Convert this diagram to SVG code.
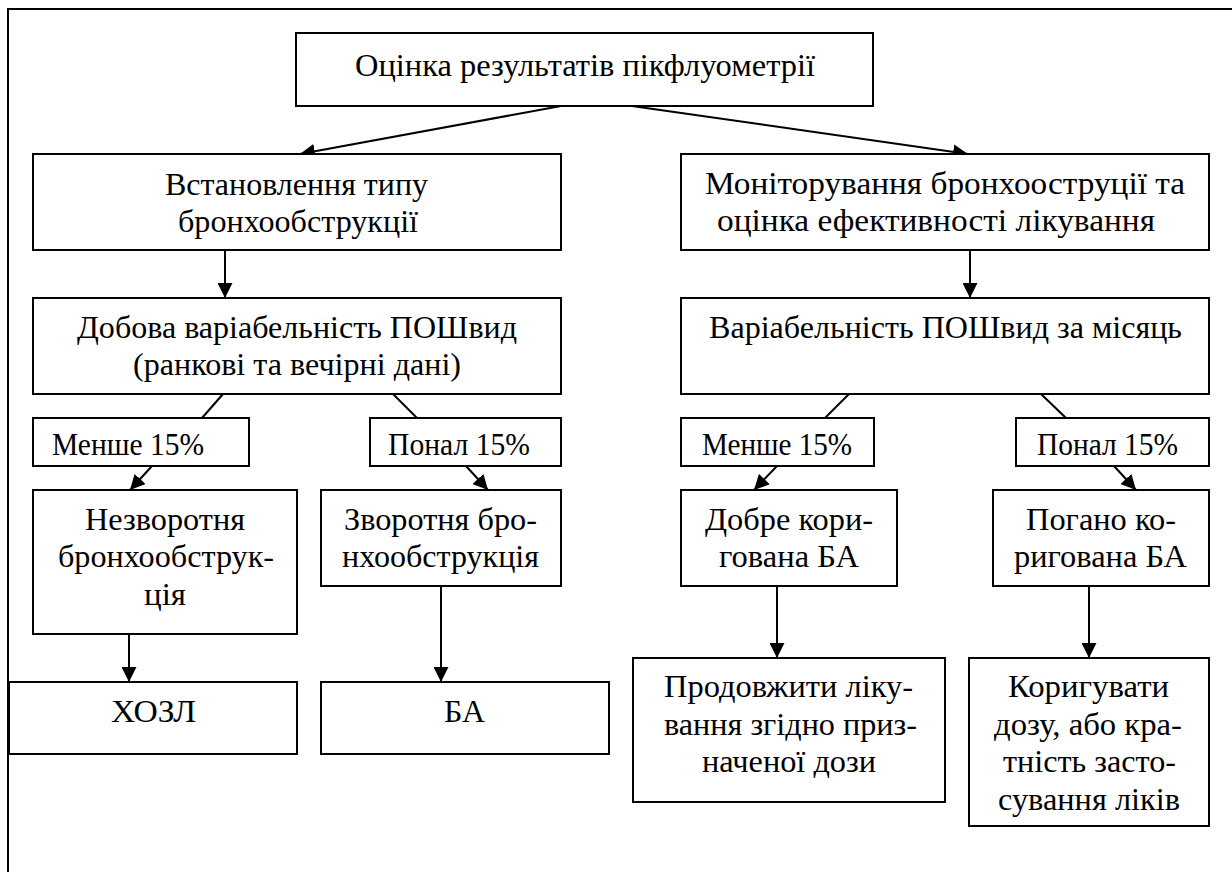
<svg xmlns="http://www.w3.org/2000/svg" width="1232" height="872" viewBox="0 0 1232 872" font-size="32">
  <defs>
    <marker id="arrow" markerUnits="userSpaceOnUse" markerWidth="15" markerHeight="15" refX="15" refY="7.5" orient="auto">
      <path d="M0,0 L15,7.5 L0,15 z" fill="#000"/>
    </marker>
  </defs>

  <rect width="1232" height="872" fill="#fff"/>
  <!-- page frame (open to the right and bottom) -->
  <path d="M8,872 V9 H1232" fill="none" stroke="#000" stroke-width="2"/>

  <!-- connectors -->
  <g id="connectors" fill="none" stroke="#000" stroke-width="2">
    <line x1="561" y1="106" x2="300" y2="154" marker-end="url(#arrow)"/>
    <line x1="632" y1="106" x2="968" y2="154" marker-end="url(#arrow)"/>
    <line x1="225" y1="250" x2="225" y2="298" marker-end="url(#arrow)"/>
    <line x1="970" y1="250" x2="970" y2="298" marker-end="url(#arrow)"/>
    <line x1="223" y1="394" x2="202" y2="418"/>
    <line x1="393" y1="394" x2="417" y2="418"/>
    <line x1="849" y1="394" x2="825" y2="418"/>
    <line x1="1041" y1="394" x2="1066" y2="418"/>
    <line x1="152" y1="466" x2="130" y2="490" marker-end="url(#arrow)"/>
    <line x1="466" y1="466" x2="488" y2="490" marker-end="url(#arrow)"/>
    <line x1="777" y1="466" x2="754" y2="490" marker-end="url(#arrow)"/>
    <line x1="1114" y1="466" x2="1136" y2="490" marker-end="url(#arrow)"/>
    <line x1="129" y1="634" x2="129" y2="682" marker-end="url(#arrow)"/>
    <line x1="441" y1="586" x2="441" y2="682" marker-end="url(#arrow)"/>
    <line x1="777" y1="586" x2="777" y2="658" marker-end="url(#arrow)"/>
    <line x1="1089" y1="586" x2="1089" y2="658" marker-end="url(#arrow)"/>
  </g>

  <g id="root">
    <rect x="296" y="33" width="577" height="73" fill="#fff" stroke="#000" stroke-width="2"/>
    <text x="355" y="76" font-family="Liberation Serif" textLength="460" lengthAdjust="spacingAndGlyphs">Оцінка результатів пікфлуометрії</text>
  </g>

  <g id="type">
    <rect x="33" y="154" width="528" height="96" fill="#fff" stroke="#000" stroke-width="2"/>
    <text x="165" y="195" font-family="Liberation Serif" textLength="263" lengthAdjust="spacingAndGlyphs">Встановлення типу</text>
    <text x="178" y="232" font-family="Liberation Serif" textLength="240" lengthAdjust="spacingAndGlyphs">бронхообструкції</text>
  </g>

  <g id="monitoring">
    <rect x="681" y="154" width="528" height="96" fill="#fff" stroke="#000" stroke-width="2"/>
    <text x="705" y="194" font-family="Liberation Serif" textLength="480" lengthAdjust="spacingAndGlyphs">Моніторування бронхооструції та</text>
    <text x="717" y="231" font-family="Liberation Serif" textLength="438" lengthAdjust="spacingAndGlyphs">оцінка ефективності лікування</text>
  </g>

  <g id="daily">
    <rect x="33" y="298" width="528" height="96" fill="#fff" stroke="#000" stroke-width="2"/>
    <text x="77" y="338" font-family="Liberation Serif" textLength="440" lengthAdjust="spacingAndGlyphs">Добова варіабельність ПОШвид</text>
    <text x="133" y="375" font-family="Liberation Serif" textLength="328" lengthAdjust="spacingAndGlyphs">(ранкові та вечірні дані)</text>
  </g>

  <g id="monthly">
    <rect x="681" y="298" width="528" height="96" fill="#fff" stroke="#000" stroke-width="2"/>
    <text x="709" y="338" font-family="Liberation Serif" textLength="473" lengthAdjust="spacingAndGlyphs">Варіабельність ПОШвид за місяць</text>
  </g>

  <g id="daily-less">
    <rect x="33" y="418" width="216" height="48" fill="#fff" stroke="#000" stroke-width="2"/>
    <text x="52" y="455" font-family="Liberation Serif" textLength="152" lengthAdjust="spacingAndGlyphs">Менше 15%</text>
  </g>

  <g id="daily-more">
    <rect x="370" y="418" width="191" height="48" fill="#fff" stroke="#000" stroke-width="2"/>
    <text x="388" y="455" font-family="Liberation Serif" textLength="142" lengthAdjust="spacingAndGlyphs">Понал 15%</text>
  </g>

  <g id="monthly-less">
    <rect x="681" y="418" width="193" height="48" fill="#fff" stroke="#000" stroke-width="2"/>
    <text x="702" y="455" font-family="Liberation Serif" textLength="150" lengthAdjust="spacingAndGlyphs">Менше 15%</text>
  </g>

  <g id="monthly-more">
    <rect x="1016" y="418" width="193" height="48" fill="#fff" stroke="#000" stroke-width="2"/>
    <text x="1037" y="455" font-family="Liberation Serif" textLength="141" lengthAdjust="spacingAndGlyphs">Понал 15%</text>
  </g>

  <g id="irreversible">
    <rect x="33" y="490" width="264" height="144" fill="#fff" stroke="#000" stroke-width="2"/>
    <text x="85" y="530" font-family="Liberation Serif" textLength="160" lengthAdjust="spacingAndGlyphs">Незворотня</text>
    <text x="58" y="567" font-family="Liberation Serif" textLength="216" lengthAdjust="spacingAndGlyphs">бронхообструк-</text>
    <text x="144" y="605" font-family="Liberation Serif" textLength="42" lengthAdjust="spacingAndGlyphs">ція</text>
  </g>

  <g id="reversible">
    <rect x="321" y="490" width="240" height="96" fill="#fff" stroke="#000" stroke-width="2"/>
    <text x="344" y="530" font-family="Liberation Serif" textLength="193" lengthAdjust="spacingAndGlyphs">Зворотня бро-</text>
    <text x="342" y="567" font-family="Liberation Serif" textLength="197" lengthAdjust="spacingAndGlyphs">нхообструкція</text>
  </g>

  <g id="well-controlled">
    <rect x="681" y="490" width="216" height="96" fill="#fff" stroke="#000" stroke-width="2"/>
    <text x="705" y="530" font-family="Liberation Serif" textLength="168" lengthAdjust="spacingAndGlyphs">Добре кори-</text>
    <text x="719" y="567" font-family="Liberation Serif" textLength="140" lengthAdjust="spacingAndGlyphs">гована БА</text>
  </g>

  <g id="poorly-controlled">
    <rect x="993" y="490" width="216" height="96" fill="#fff" stroke="#000" stroke-width="2"/>
    <text x="1026" y="530" font-family="Liberation Serif" textLength="150" lengthAdjust="spacingAndGlyphs">Погано ко-</text>
    <text x="1014" y="567" font-family="Liberation Serif" textLength="173" lengthAdjust="spacingAndGlyphs">ригована БА</text>
  </g>

  <g id="copd">
    <rect x="9" y="682" width="288" height="72" fill="#fff" stroke="#000" stroke-width="2"/>
    <text x="111" y="722" font-family="Liberation Serif" textLength="85" lengthAdjust="spacingAndGlyphs">ХОЗЛ</text>
  </g>

  <g id="asthma">
    <rect x="321" y="682" width="288" height="72" fill="#fff" stroke="#000" stroke-width="2"/>
    <text x="444" y="722" font-family="Liberation Serif" textLength="41" lengthAdjust="spacingAndGlyphs">БА</text>
  </g>

  <g id="continue">
    <rect x="633" y="658" width="312" height="144" fill="#fff" stroke="#000" stroke-width="2"/>
    <text x="664" y="697" font-family="Liberation Serif" textLength="249" lengthAdjust="spacingAndGlyphs">Продовжити ліку-</text>
    <text x="664" y="735" font-family="Liberation Serif" textLength="253" lengthAdjust="spacingAndGlyphs">вання згідно приз-</text>
    <text x="702" y="772" font-family="Liberation Serif" textLength="174" lengthAdjust="spacingAndGlyphs">наченої дози</text>
  </g>

  <g id="adjust">
    <rect x="969" y="658" width="240" height="168" fill="#fff" stroke="#000" stroke-width="2"/>
    <text x="1008" y="697" font-family="Liberation Serif" textLength="161" lengthAdjust="spacingAndGlyphs">Коригувати</text>
    <text x="994" y="735" font-family="Liberation Serif" textLength="188" lengthAdjust="spacingAndGlyphs">дозу, або кра-</text>
    <text x="1003" y="772" font-family="Liberation Serif" textLength="173" lengthAdjust="spacingAndGlyphs">тність засто-</text>
    <text x="998" y="810" font-family="Liberation Serif" textLength="182" lengthAdjust="spacingAndGlyphs">сування ліків</text>
  </g>
</svg>
